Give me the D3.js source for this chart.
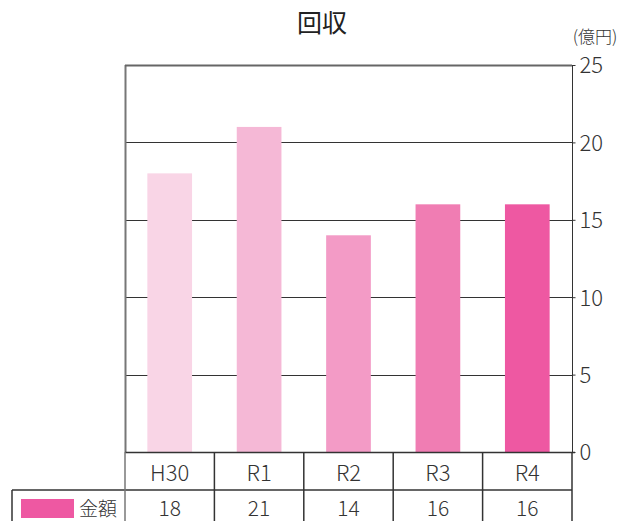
<!DOCTYPE html>
<html>
<head>
<meta charset="utf-8">
<script src="https://cdn.jsdelivr.net/npm/d3@7"></script>
<style>
  html, body { margin: 0; padding: 0; background: #fff; }
  svg { display: block; font-family: "Noto Sans CJK JP", "Noto Sans", sans-serif; font-weight: 300; }
</style>
</head>
<body>
<svg id="chart" width="636" height="521"></svg>
<script>
// 回収 (億円) by fiscal year
const categories = ["H30", "R1", "R2", "R3", "R4"];
const amounts = [18, 21, 14, 16, 16];
const barColors = ["#f9d5e6", "#f5b8d6", "#f39bc6", "#f07db3", "#ee58a2"];
const yTicks = [0, 5, 10, 15, 20, 25];
const seriesName = "金額";
const legendColor = "#ee58a2";

const svg = d3.select("#chart");
const plotL = 125, plotR = 572, plotT = 65, plotB = 452;

const x = d3.scaleBand().domain(categories).range([plotL, plotR]).paddingInner(0.5).paddingOuter(0.25);
const bandX = d3.scaleBand().domain(categories).range([plotL, plotR]);
const y = d3.scaleLinear().domain([0, 25]).range([plotB, plotT]);

// title and unit
svg.append("text").attr("x", 322).attr("y", 32).attr("text-anchor", "middle")
  .attr("font-size", 25).attr("font-weight", 400).attr("fill", "#222").text("回収");
svg.append("text").attr("x", 595).attr("y", 43).attr("text-anchor", "middle")
  .attr("font-size", 17).attr("fill", "#333").text("(億円)");

// gridlines
svg.append("g").selectAll("line").data(yTicks.filter(d => d > 0)).join("line")
  .attr("x1", plotL).attr("x2", plotR)
  .attr("y1", d => Math.round(y(d)) + 0.5).attr("y2", d => Math.round(y(d)) + 0.5)
  .attr("stroke", "#333").attr("stroke-width", 1);

// bars
svg.append("g").selectAll("rect").data(amounts).join("rect")
  .attr("x", (d, i) => x(categories[i]))
  .attr("width", x.bandwidth())
  .attr("y", d => y(d))
  .attr("height", d => y(0) - y(d))
  .attr("fill", (d, i) => barColors[i]);

// frame
svg.append("line").attr("x1", plotL + 0.5).attr("x2", plotL + 0.5).attr("y1", plotT).attr("y2", plotB)
  .attr("stroke", "#777").attr("stroke-width", 2);
svg.append("line").attr("x1", plotL).attr("x2", plotR).attr("y1", plotT + 0.5).attr("y2", plotT + 0.5)
  .attr("stroke", "#666").attr("stroke-width", 2);

// right axis
const axis = d3.axisRight(y).tickValues(yTicks).tickSize(3).tickPadding(4);
const ga = svg.append("g").attr("transform", `translate(${plotR + 0.5},0)`).call(axis);
ga.select(".domain").attr("stroke", "#333").attr("d", `M0,${plotT}V${plotB}`);
ga.selectAll(".tick line").attr("stroke", "#333");
ga.selectAll(".tick text").attr("font-size", 22).attr("fill", "#333")
  .attr("font-family", "\"Noto Sans CJK JP\", sans-serif").attr("font-weight", 300).attr("dy", "0.36em");

// data table
const row1Top = plotB, row1Bot = 490, row2Bot = 530;
const tbl = svg.append("g").attr("stroke", "#333").attr("stroke-width", 1.5).attr("fill", "none");
tbl.append("line").attr("x1", plotL).attr("x2", plotR + 3).attr("y1", row1Top + 0.5).attr("y2", row1Top + 0.5);
tbl.append("line").attr("x1", 12).attr("x2", plotR).attr("y1", row1Bot).attr("y2", row1Bot);
tbl.append("line").attr("x1", 12).attr("x2", 12).attr("y1", row1Bot).attr("y2", row2Bot);
const edges = categories.map(c => bandX(c)).concat([plotR]);
tbl.selectAll(".col").data(edges).join("line").attr("class", "col")
  .attr("x1", d => d).attr("x2", d => d).attr("y1", row1Top).attr("y2", row2Bot)
  .attr("stroke", (d, i) => (i === 0 ? "#777" : "#333"));

svg.append("g").selectAll("text").data(categories).join("text")
  .attr("x", d => bandX(d) + bandX.bandwidth() / 2).attr("y", 481)
  .attr("text-anchor", "middle").attr("font-size", 22).attr("fill", "#333").text(d => d);
svg.append("g").selectAll("text").data(amounts).join("text")
  .attr("x", (d, i) => bandX(categories[i]) + bandX.bandwidth() / 2).attr("y", 516)
  .attr("text-anchor", "middle").attr("font-size", 21).attr("fill", "#333").text(d => d);

// legend cell
svg.append("rect").attr("x", 21).attr("y", 499).attr("width", 53).attr("height", 19).attr("fill", legendColor);
svg.append("text").attr("x", 79).attr("y", 516).attr("font-size", 19).attr("fill", "#333").text(seriesName);
</script>
</body>
</html>
